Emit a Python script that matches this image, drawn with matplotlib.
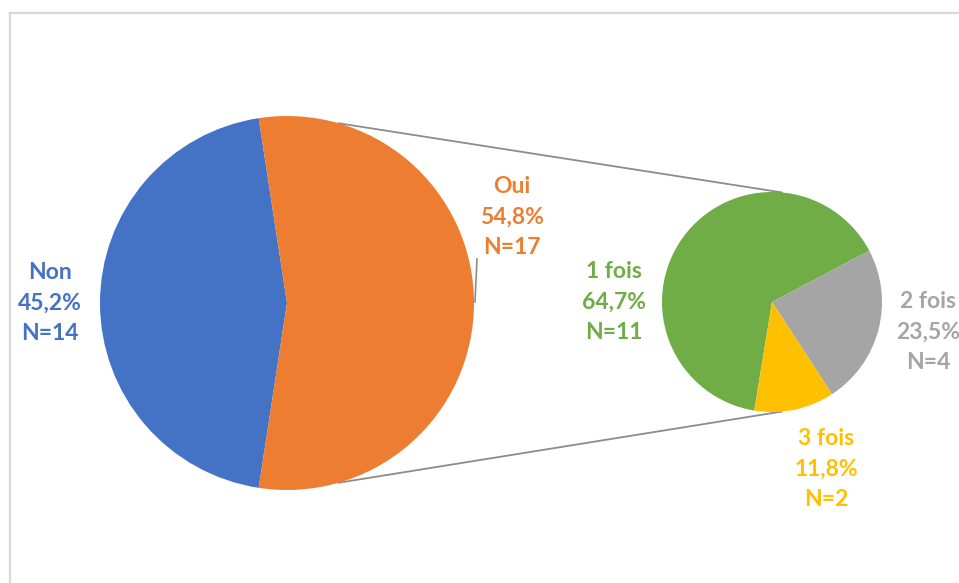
import matplotlib.pyplot as plt
import numpy as np
from matplotlib.lines import Line2D

# counts behind the two pies
main_labels = ["Non", "Oui"]
main_counts = [14, 17]
sub_labels = ["1 fois", "2 fois", "3 fois"]
sub_counts = [11, 4, 2]

MAIN_COLORS = ["#4472C4", "#ED7D31"]
SUB_COLORS = ["#70AD47", "#A5A5A5", "#FFC000"]
SUB_TEXT = ["#70AD47", "#A5A5A5", "#FFC000"]

W, H = 959, 583
plt.rcParams["font.family"] = ["Lato", "DejaVu Sans"]

fig = plt.figure(figsize=(W / 100, H / 100), dpi=100)
ax = fig.add_axes([0, 0, 1, 1])

main_c, main_r = (287, 280), 187
sub_c, sub_r = (772, 281), 110

main_frac = np.array(main_counts) / sum(main_counts)
sub_frac = np.array(sub_counts) / sum(sub_counts)

# "Oui" wedge centred on the right, "Non" on the left
ax.pie(main_counts, colors=MAIN_COLORS, center=main_c, radius=main_r,
       startangle=180 - 180 * main_frac[0], counterclock=True,
       wedgeprops=dict(linewidth=0))

# breakdown of "Oui", drawn clockwise so 3 fois ends at the bottom
ax.pie(sub_counts, colors=SUB_COLORS, center=sub_c, radius=sub_r,
       startangle=27.8 + 360 * sub_frac[0], counterclock=False,
       wedgeprops=dict(linewidth=0))

# pie() resets the limits, so set the pixel-sized canvas afterwards
ax.set_xlim(0, W)
ax.set_ylim(0, H)
ax.set_aspect("equal")
ax.axis("off")

# chart frame (only top and left edges are visible)
frame = dict(color="#d9d9d9", lw=1.6, transform=ax.transData)
fig.add_artist(Line2D([10, W], [H - 13, H - 13], **frame))
fig.add_artist(Line2D([10, 10], [0, H - 13], **frame))

# connector lines between the pies
for sgn in (1, -1):
    a0, a1 = np.radians(74 * sgn), np.radians(85 * sgn)
    x0 = main_c[0] + main_r * np.cos(a0)
    y0 = main_c[1] + main_r * np.sin(a0)
    x1 = sub_c[0] + sub_r * np.cos(a1)
    y1 = sub_c[1] + sub_r * np.sin(a1)
    ax.plot([x0, x1], [y0, y1], color="#8c8c8c", lw=1.3, zorder=0)

# leader line for the "Oui" label
ax.plot([477, 475], [H - 259, H - 302], color="#8c8c8c", lw=1.2)


def pct(f):
    return f"{f * 100:.1f}%".replace(".", ",")


def label(pos, lab, n, f, col):
    ax.text(*pos, f"{lab}\n{pct(f)}\nN={n}", color=col, fontsize=16.5,
            fontweight="bold", ha="center", va="center", linespacing=1.55)


main_pos = [(50, H - 303), (512, H - 217)]
for lab, n, f, col, pos in zip(main_labels, main_counts, main_frac,
                               MAIN_COLORS, main_pos):
    label(pos, lab, n, f, col)

sub_pos = [(614, H - 302), (928, H - 332), (826, H - 469)]
for lab, n, f, col, pos in zip(sub_labels, sub_counts, sub_frac,
                               SUB_TEXT, sub_pos):
    label(pos, lab, n, f, col)

fig.savefig("out.png", dpi=100)
